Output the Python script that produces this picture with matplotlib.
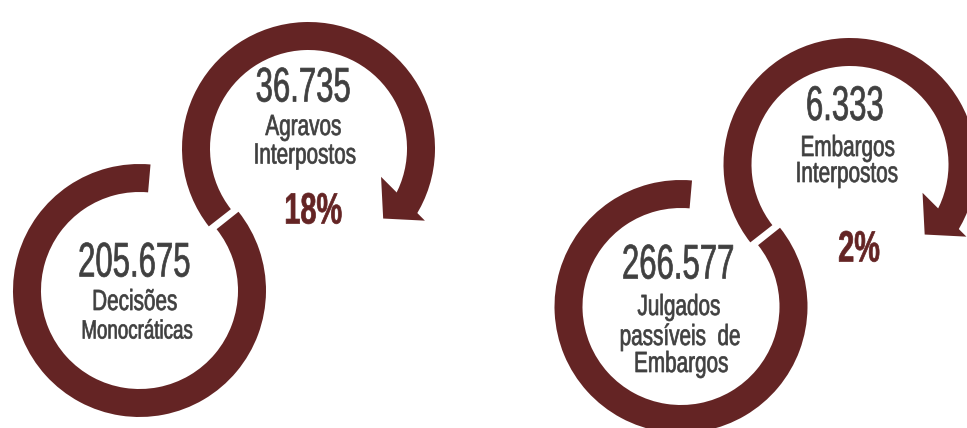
import numpy as np
import matplotlib.pyplot as plt
from matplotlib.patches import Wedge, Polygon
from matplotlib.patheffects import AbstractPathEffect
from matplotlib.transforms import Affine2D

W, H = 967, 428
COR = '#642424'
CINZA = '#404040'
FONTE = 'Liberation Sans'

# dados
valores_base = ['205.675', '266.577']
rotulos_base = [['Decisões', 'Monocráticas'], ['Julgados', 'passíveis  de', 'Embargos']]
valores_topo = ['36.735', '6.333']
rotulos_topo = [['Agravos', 'Interpostos'], ['Embargos', 'Interpostos']]
percentuais = ['18%', '2%']

# layout em pixels (y medido a partir do topo)
centro_base = [(139.5, 290.5), (681, 306.5)]
centro_topo = [(308.5, 148.5), (850, 164.5)]
pos_valor_base = [(134.5, 276.5), (678.5, 278.5)]
pos_rot_base = [[(134.5, 310, 21), (137, 338.5, 19)],
                [(679, 315, 21), (680, 345, 21), (681, 372, 21)]]
pos_valor_topo = [(303.5, 101.5), (845, 120)]
pos_rot_topo = [[(303.5, 135, 21), (304.5, 163.5, 21)],
                [(847.5, 156, 21), (846.5, 182, 21)]]
pos_perc = [(313, 223.5), (859, 261.5)]

R, LARG = 126.5, 28
FIM = -33          # fim do arco com seta
R_PONTA, ANG_PONTA = 107, -28
HW, L = 31, 28


class Squeeze(AbstractPathEffect):
    # estreita o texto na horizontal (fonte condensada) e engrossa o traço
    def __init__(self, sx, lw=0.0):
        super().__init__()
        self.sx = sx
        self.lw = lw

    def draw_path(self, renderer, gc, tpath, affine, rgbFace=None):
        bb = tpath.get_extents(affine)
        cx = (bb.x0 + bb.x1) / 2
        t = affine + Affine2D().translate(-cx, 0).scale(self.sx, 1).translate(cx, 0)
        gc0 = renderer.new_gc()
        gc0.copy_properties(gc)
        if self.lw > 0 and rgbFace is not None:
            gc0.set_foreground(rgbFace)
            gc0.set_linewidth(self.lw)
        renderer.draw_path(gc0, tpath, t, rgbFace)
        gc0.restore()


def texto(ax, x, y, s, size, sx, lw, color=CINZA, weight='normal'):
    ax.text(x, H - y, s, ha='center', va='baseline', fontsize=size, color=color,
            fontfamily=FONTE, fontweight=weight, path_effects=[Squeeze(sx, lw)])


fig = plt.figure(figsize=(9.67, 4.28), dpi=100)
ax = fig.add_axes([0, 0, 1, 1])
ax.set_xlim(0, W)
ax.set_ylim(0, H)
ax.axis('off')

for i in range(2):
    # anel de baixo
    cx, cy = centro_base[i]
    ax.add_patch(Wedge((cx, H - cy), R, 85, 398.5, width=LARG, color=COR, lw=0))

    # anel de cima com seta
    ux, uy = centro_topo[i]
    ax.add_patch(Wedge((ux, H - uy), R, FIM, 218, width=LARG, color=COR, lw=0))
    a = np.radians(ANG_PONTA)
    m = np.array([ux + R_PONTA * np.cos(a), H - uy + R_PONTA * np.sin(a)])
    phi = np.radians(-45)
    d = np.array([np.sin(phi), -np.cos(phi)])
    p = np.array([np.cos(phi), np.sin(phi)])
    ax.add_patch(Polygon([m + HW * p, m + L * d, m - HW * p], closed=True, color=COR, lw=0))

    # textos
    x, y = pos_valor_base[i]
    texto(ax, x, y, valores_base[i], 35, 0.64, 0.5)
    for s, (x, y, fs) in zip(rotulos_base[i], pos_rot_base[i]):
        texto(ax, x, y, s, fs, 0.71, 0.5)

    x, y = pos_valor_topo[i]
    texto(ax, x, y, valores_topo[i], 35, 0.64, 0.5)
    for s, (x, y, fs) in zip(rotulos_topo[i], pos_rot_topo[i]):
        texto(ax, x, y, s, fs, 0.71, 0.5)

    x, y = pos_perc[i]
    texto(ax, x, y, percentuais[i], 31.5, 0.66, 0.5, color=COR, weight='bold')

fig.savefig('out.png', dpi=100)
